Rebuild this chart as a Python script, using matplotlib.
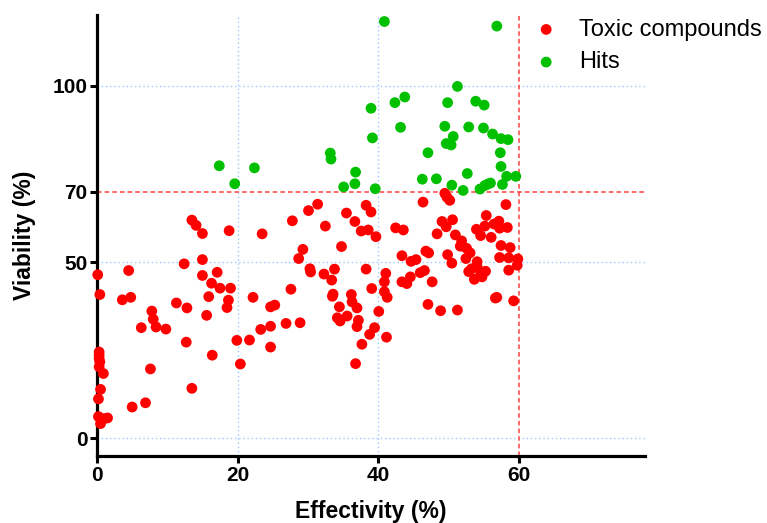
import numpy as np
import matplotlib
matplotlib.use("Agg")
from matplotlib import pyplot as plt

# screen results: effectivity vs viability, both in %
toxic_x = [13.5, 14.1, 15.0, 18.8, 23.5, 27.8, 0.1, 4.5, 12.4, 15.0, 15.0, 17.1, 16.3, 17.5, 19.0,
           0.4, 3.6, 4.8, 15.9, 18.7, 18.5, 22.2, 27.6, 11.3, 12.8, 15.6, 7.8, 8.0, 8.4, 6.3, 9.8,
           24.7, 25.3, 26.9, 28.9, 23.3, 24.7, 24.7, 19.9, 21.7, 20.4, 12.7, 16.4, 7.6, 13.5, 6.9, 5.0,
           0.3, 0.3, 0.3, 0.4, 0.3, 0.9, 0.5, 0.2, 0.2, 0.5, 1.0, 1.5,
           31.4, 30.1, 32.5, 35.5, 36.7, 38.3, 39.0, 37.6, 38.6, 39.7, 42.5, 43.6, 46.4, 49.5, 49.8,
           50.2, 58.2, 34.8, 29.3, 28.7, 30.3, 30.4, 32.3, 33.8, 33.4, 38.3, 33.6, 33.5, 36.2, 36.3,
           37.0, 39.1, 41.1, 40.9, 40.9, 41.3, 34.5, 34.2, 34.6, 35.6, 37.2, 37.0, 40.1, 39.5, 38.8,
           41.2, 37.7, 36.8, 43.4, 44.7, 45.4, 46.8, 47.2, 43.4, 44.1, 44.6, 46.0, 46.6, 47.7, 47.1,
           48.9, 51.3, 49.1, 49.7, 50.6, 48.4, 51.0, 51.9, 51.7, 52.6, 53.1, 49.9, 52.5, 50.5, 54.1,
           52.9, 53.3, 54.1, 53.7, 54.6, 55.3, 54.8, 54.0, 54.6, 55.4, 55.2, 56.1, 56.5, 57.2, 57.3,
           58.4, 57.5, 58.8, 57.3, 58.6, 59.9, 59.8, 58.6, 56.7, 59.3, 56.9]
toxic_y = [61.9, 60.4, 58.1, 58.9, 58.0, 61.7, 46.4, 47.6, 49.5, 50.7, 46.2, 47.1, 44.0, 42.6, 42.6,
           40.8, 39.3, 40.0, 40.2, 39.2, 37.1, 40.0, 42.3, 38.4, 37.0, 34.9, 36.1, 33.8, 31.6, 31.4, 31.0,
           37.3, 37.8, 32.6, 32.8, 30.9, 31.8, 25.9, 27.8, 27.9, 21.1, 27.3, 23.6, 19.7, 14.2, 10.1, 8.9,
           24.5, 23.6, 22.6, 21.7, 20.3, 18.4, 13.9, 11.2, 6.2, 4.2, 5.6, 5.8,
           66.4, 64.6, 60.2, 63.9, 61.5, 66.1, 64.2, 58.8, 59.1, 57.2, 59.7, 59.1, 67.0, 69.5, 68.4,
           67.5, 66.3, 54.4, 53.6, 51.0, 48.1, 47.2, 46.6, 48.0, 44.9, 48.0, 40.9, 40.3, 40.8, 38.7,
           37.0, 42.5, 46.8, 44.4, 41.6, 40.0, 37.3, 34.2, 33.3, 34.7, 33.5, 31.7, 36.0, 31.4, 29.5,
           28.7, 26.7, 21.2, 51.8, 50.2, 50.7, 53.1, 52.6, 44.4, 43.9, 45.8, 47.0, 47.6, 44.4, 38.0,
           36.2, 36.4, 61.5, 60.0, 62.0, 58.0, 57.7, 56.0, 54.5, 53.9, 52.6, 52.1, 51.0, 49.7, 50.1,
           47.3, 48.1, 48.7, 45.1, 46.8, 47.4, 45.8, 59.3, 57.5, 63.2, 60.2, 57.0, 60.8, 61.6, 59.6,
           59.8, 54.7, 54.1, 51.3, 51.2, 50.9, 49.1, 47.7, 39.8, 39.0, 40.0]

hits_x = [40.9, 56.9, 51.3, 43.8, 42.4, 49.9, 53.9, 55.1, 39.0, 43.2, 39.2, 49.5, 52.9, 55.0, 56.3,
          57.5, 58.5, 50.7, 49.7, 50.4, 47.1, 33.2, 33.3, 57.4, 57.5, 36.8, 52.7, 58.3, 59.6, 46.3,
          48.3, 36.7, 35.1, 39.6, 50.5, 52.1, 54.5, 55.2, 55.6, 56.0, 57.7, 17.4, 22.4, 19.6]
hits_y = [118.2, 116.9, 99.8, 96.8, 95.2, 95.2, 95.6, 94.5, 93.6, 88.2, 85.2, 88.5, 88.3, 88.0, 86.3,
          85.0, 84.7, 85.6, 83.6, 83.2, 81.0, 80.9, 79.2, 81.0, 77.1, 75.5, 75.1, 74.3, 74.3, 73.5,
          73.6, 72.2, 71.3, 70.8, 71.8, 70.3, 70.7, 71.7, 72.1, 72.4, 72.0, 77.3, 76.7, 72.2]

x_ticks = [0, 20, 40, 60]
y_ticks = [0, 50, 70, 100]
viability_cut = 70
effectivity_cut = 60

bold_font = ["Liberation Sans", "DejaVu Sans"]

fig = plt.figure(figsize=(7.67, 5.23), dpi=100)
ax = fig.add_axes([0.1265, 0.128, 0.7145, 0.843])

# guide lines: light blue dotted grid, red dashed thresholds
grid_kw = dict(color="#9cc8ff", linestyle=(0, (1, 2)), linewidth=1.0, zorder=1)
for gx in [20, 40]:
    ax.axvline(gx, **grid_kw)
for gy in [0, 50, 100]:
    ax.axhline(gy, **grid_kw)
ax.axhline(viability_cut, color="#ff4040", linestyle=(0, (3, 2)), linewidth=1.1, zorder=1)
ax.axvline(effectivity_cut, color="#ff4040", linestyle=(0, (3, 2)), linewidth=1.1, zorder=1)

ax.scatter(toxic_x, toxic_y, s=60, color="#ff0000", edgecolors="none", zorder=3,
           label="Toxic compounds", clip_on=False)
ax.scatter(hits_x, hits_y, s=60, color="#00c000", edgecolors="none", zorder=3,
           label="Hits", clip_on=False)

ax.set_xlim(0, 78)
ax.set_ylim(-5, 120)
ax.set_xticks(x_ticks)
ax.set_yticks(y_ticks)

for side in ["top", "right"]:
    ax.spines[side].set_visible(False)
for side in ["left", "bottom"]:
    ax.spines[side].set_linewidth(2.3)
ax.tick_params(axis="both", direction="out", length=5, width=2.2, pad=2)
for lab in ax.get_xticklabels() + ax.get_yticklabels():
    lab.set_fontfamily(bold_font)
    lab.set_fontweight("bold")
    lab.set_fontsize(15)

ax.set_xlabel("Effectivity (%)", fontsize=16.5, fontweight="bold", family=bold_font, labelpad=11)
ax.set_ylabel("Viability (%)", fontsize=16.5, fontweight="bold", family=bold_font, labelpad=12)

leg = ax.legend(loc="upper left", bbox_to_anchor=(0.669, 1.005), bbox_transform=fig.transFigure,
                frameon=False, handlelength=1.0, handletextpad=0.9, labelspacing=0.45,
                prop={"family": "Liberation Sans", "size": 17})

fig.savefig("out.png", dpi=100)
